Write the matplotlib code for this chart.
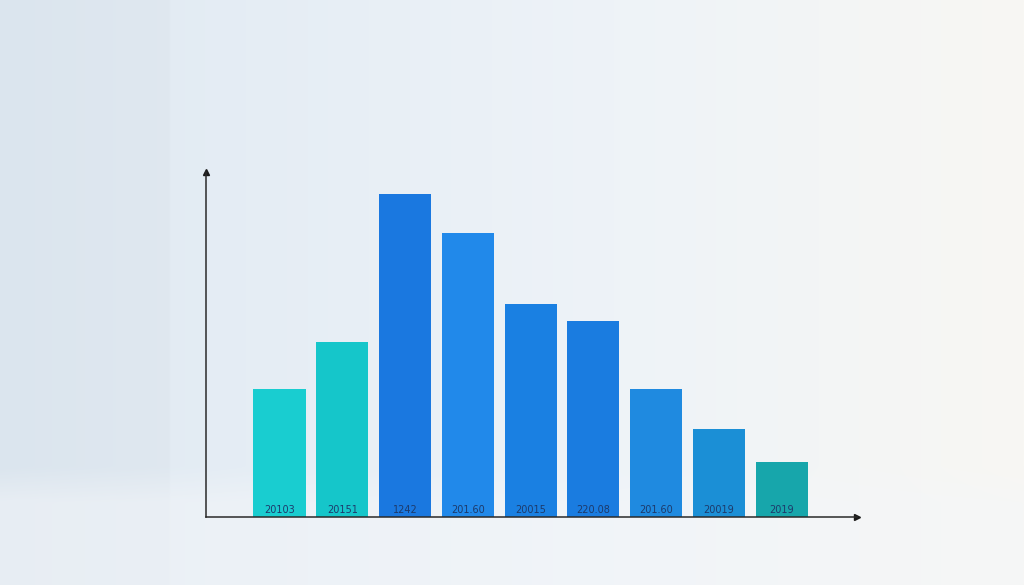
import numpy as np
import matplotlib

matplotlib.use("Agg")
import matplotlib.pyplot as plt
from matplotlib.colors import to_rgb


# bar data
labels = ["20103", "20151", "1242", "201.60", "20015", "220.08", "201.60", "20019", "2019"]
values = [128, 175, 323, 284, 213, 196, 128, 88, 55]
colors = [
    "#19cdd0",
    "#15c6ca",
    "#1a78e0",
    "#2189ea",
    "#1a80e2",
    "#1a7ce0",
    "#1f8ae0",
    "#1b8fd6",
    "#17a6ab",
]


def main():

    fig = plt.figure(figsize=(10.24, 5.85), dpi=100)

    # soft studio-like background: bluish wall on the left, warm on the right,
    # brighter floor below
    bg = fig.add_axes([0, 0, 1, 1])
    bg.set_axis_off()
    w, h = 512, 293
    gx = np.linspace(0, 1, w)[None, :, None]
    gy = np.linspace(0, 1, h)[:, None, None]
    left = np.array(to_rgb("#dfe9f2"))
    mid = np.array(to_rgb("#eef3f8"))
    right = np.array(to_rgb("#f8f7f3"))
    t = np.clip(gx / 0.6, 0, 1)
    wall = (1 - t) * left + t * mid
    t2 = np.clip((gx - 0.6) / 0.4, 0, 1)
    wall = (1 - t2) * wall + t2 * right
    # darker far-left wall panel
    wall = wall - 0.015 * (gx < 0.165)
    floor_col = np.array(to_rgb("#f4f6f9"))
    f = np.clip((gy - 0.80) / 0.06, 0, 1)
    img = (1 - f) * wall + f * (0.5 * wall + 0.5 * floor_col)
    img = np.clip(img, 0, 1)
    bg.imshow(img, aspect="auto", extent=[0, 1, 0, 1], origin="upper",
              interpolation="bilinear")
    bg.set_xlim(0, 1)
    bg.set_ylim(0, 1)

    ax = fig.add_axes([206 / 1024, 1 - 517 / 585, (857 - 206) / 1024, (517 - 172) / 585])
    ax.patch.set_alpha(0)

    x = np.arange(len(values))
    ax.bar(x, values, width=0.83, color=colors, edgecolor="none", zorder=2)

    for xi, lab in zip(x, labels):
        ax.text(xi, 7, lab, ha="center", va="center", fontsize=7,
                color="#1d3a6b", zorder=3)

    ax.set_xlim(-1.17, 9.2)
    ax.set_ylim(0, 345)

    for side in ["top", "right"]:
        ax.spines[side].set_visible(False)
    for side in ["left", "bottom"]:
        ax.spines[side].set_color("#2a2a2a")
        ax.spines[side].set_linewidth(1.1)

    ax.plot(1, 0, ">", color="#1a1a1a", markersize=5,
            transform=ax.transAxes, clip_on=False)
    ax.plot(0, 1, "^", color="#1a1a1a", markersize=5,
            transform=ax.transAxes, clip_on=False)

    ax.set_xticks([])
    ax.set_yticks([])

    fig.savefig("out.png", dpi=100)


if __name__ == "__main__":
    main()
